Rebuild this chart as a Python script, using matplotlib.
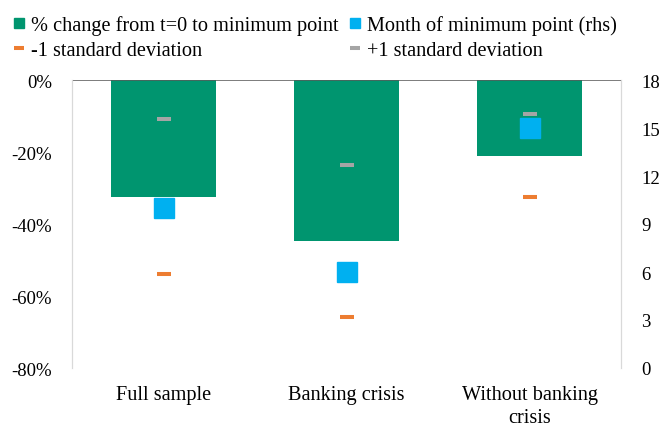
import matplotlib
matplotlib.use("Agg")
import matplotlib.pyplot as plt
from matplotlib.lines import Line2D
from matplotlib.ticker import FuncFormatter

categories = ["Full sample", "Banking crisis", "Without banking\ncrisis"]
pct_change = [-32.4, -44.8, -21.0]       # % change from t=0 to minimum point
minus_1sd = [-54.0, -65.9, -32.6]        # -1 standard deviation
plus_1sd = [-10.8, -23.7, -9.4]          # +1 standard deviation
month_min = [10.0, 6.0, 15.0]            # month of minimum point (rhs)

left_ticks = [0, -20, -40, -60, -80]
right_ticks = [0, 3, 6, 9, 12, 15, 18]

GREEN = "#00956F"
BLUE = "#00B0F0"
ORANGE = "#ED7D31"
GREY = "#A5A5A5"

plt.rcParams["font.family"] = ["Liberation Serif", "DejaVu Serif"]
FS_NUM = 13.5
FS_TXT = 14.6

W, H = 659, 427
fig = plt.figure(figsize=(W / 100, H / 100), dpi=100)
ax = fig.add_axes([72 / W, 1 - 369 / H, (621 - 72) / W, (369 - 81) / H])
ax2 = ax.twinx()

x = list(range(len(categories)))
ax.bar(x, pct_change, width=0.575, color=GREEN, zorder=2)
ax.plot(x, plus_1sd, ls="none", marker="_", ms=10.6, mew=2.9, color=GREY, zorder=3)
ax.plot(x, minus_1sd, ls="none", marker="_", ms=10.6, mew=2.9, color=ORANGE, zorder=3)
ax.axhline(0, color="#595959", lw=1.1, zorder=4)

ax2.plot(x, month_min, ls="none", marker="s", ms=14.4, color=BLUE, zorder=5)

ax.set_xlim(-0.5, 2.5)
ax.set_ylim(-80, 0)
ax.set_yticks(left_ticks)
ax.yaxis.set_major_formatter(FuncFormatter(lambda v, p: f"{v:.0f}%"))
ax2.set_ylim(0, 18)
ax2.set_yticks(right_ticks)

ax.set_xticks(x)
ax.set_xticklabels(categories, fontsize=FS_TXT, linespacing=1.25)
ax.tick_params(axis="x", length=0, pad=12.5)
ax.tick_params(axis="y", length=0, pad=14.4, labelsize=FS_NUM)
ax2.tick_params(axis="y", length=0, pad=14.4, labelsize=FS_NUM)

for a in (ax, ax2):
    a.spines["top"].set_visible(False)
    a.spines["bottom"].set_visible(False)
    a.spines["left"].set_color("#D9D9D9")
    a.spines["right"].set_color("#D9D9D9")
ax2.set_zorder(ax.get_zorder() + 1)
ax2.patch.set_visible(False)

def sq(c):
    return Line2D([], [], ls="none", marker="s", ms=7.4, color=c)

def dash(c):
    return Line2D([], [], ls="none", marker="_", ms=7.4, mew=2.9, color=c)

leg_kw = dict(frameon=False, fontsize=FS_TXT, handlelength=0.55, handletextpad=0.35,
              labelspacing=0.3, borderaxespad=0, borderpad=0)
fig.legend([sq(GREEN), dash(ORANGE)],
           ["% change from t=0 to minimum point", "-1 standard deviation"],
           loc="upper left", bbox_to_anchor=(13 / W, 1 - 16 / H), **leg_kw)
fig.legend([sq(BLUE), dash(GREY)],
           ["Month of minimum point (rhs)", "+1 standard deviation"],
           loc="upper left", bbox_to_anchor=(349 / W, 1 - 16 / H), **leg_kw)

fig.savefig("out.png", dpi=100)
